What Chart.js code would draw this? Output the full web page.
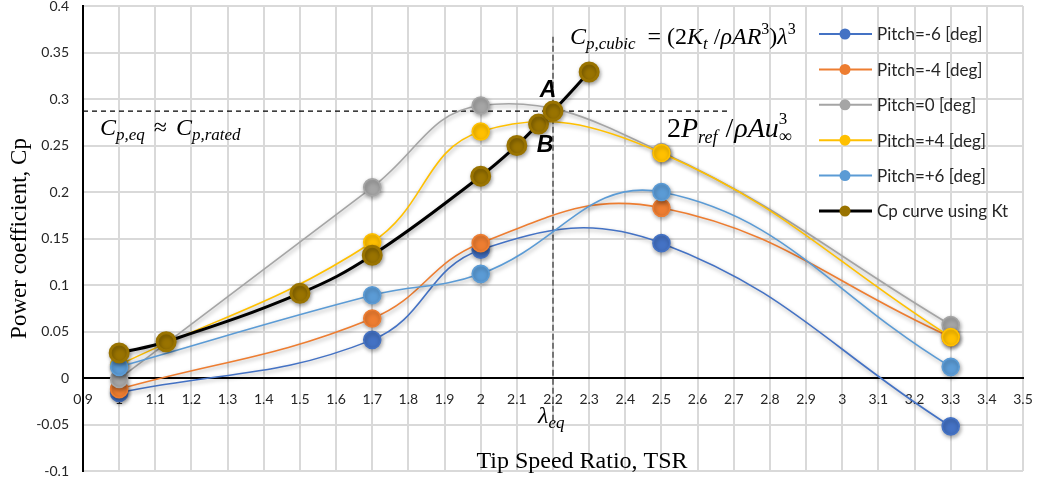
<!DOCTYPE html>
<html>
<head>
<meta charset="utf-8">
<script src="https://cdn.jsdelivr.net/npm/chart.js@4.4.1/dist/chart.umd.min.js"></script>
<style>
  html, body { margin: 0; padding: 0; background: #fff; }
  #wrap { width: 1037px; height: 483px; }
</style>
</head>
<body>
<div id="wrap"><canvas id="cpChart" width="1037" height="483"></canvas></div>
<script>
// tip speed ratio where the pitch sweeps were measured
const tsrPitch = [1.0, 1.7, 2.0, 2.5, 3.3];
const cpPitchM6 = [-0.016, 0.041, 0.138, 0.145, -0.052];
const cpPitchM4 = [-0.012, 0.064, 0.145, 0.183, 0.044];
const cpPitch0 = [-0.001, 0.205, 0.293, 0.243, 0.057];
const cpPitchP4 = [0.014, 0.146, 0.265, 0.242, 0.044];
const cpPitchP6 = [0.012, 0.089, 0.112, 0.200, 0.012];

// cubic Cp curve from Kt
const tsrKt = [1.0, 1.13, 1.5, 1.7, 2.0, 2.1, 2.16, 2.2, 2.3];
const cpKt = [0.027, 0.039, 0.091, 0.132, 0.217, 0.250, 0.273, 0.287, 0.329];

const pitchLabels = ['Pitch=-6 [deg]', 'Pitch=-4 [deg]', 'Pitch=0 [deg]', 'Pitch=+4 [deg]', 'Pitch=+6 [deg]'];
const pitchColors = ['#4472C4', '#ED7D31', '#A5A5A5', '#FFC000', '#5B9BD5'];
const ktLabel = 'Cp curve using Kt';

// axis ranges
const xMin = 0.9, xMax = 3.5, xStep = 0.1;
const yMin = -0.1, yMax = 0.4, yStep = 0.05;

// equilibrium point lines
const cpEq = 0.287;
const lambdaEq = 2.2;
const cpEqLineEnd = 2.69;
const lambdaLineTop = 0.367, lambdaLineBottom = -0.05;

function toPoints(xs, ys) {
  return xs.map((x, i) => ({ x: x, y: ys[i] }));
}

const pitchSeries = [cpPitchM6, cpPitchM4, cpPitch0, cpPitchP4, cpPitchP6];
const datasets = pitchSeries.map((vals, i) => ({
  label: pitchLabels[i],
  data: toPoints(tsrPitch, vals),
  borderColor: pitchColors[i],
  backgroundColor: pitchColors[i],
  pointBackgroundColor: pitchColors[i],
  pointBorderColor: pitchColors[i],
  borderWidth: 1.6,
  pointRadius: 8.5,
  pointHoverRadius: 8.5,
  showLine: true,
  tension: 0.42,
  clip: false,
  order: 10 - i
}));
datasets.push({
  label: ktLabel,
  data: toPoints(tsrKt, cpKt),
  borderColor: '#000000',
  backgroundColor: '#997300',
  pointBackgroundColor: '#997300',
  pointBorderColor: '#997300',
  borderWidth: 3,
  pointRadius: 9,
  pointHoverRadius: 9,
  showLine: true,
  tension: 0.4,
  clip: false,
  order: 1
});

function fmt(v) {
  return String(Number(v.toFixed(2)));
}

// draws a formula made of runs (italic letters, sub/superscripts)
function drawRuns(ctx, x, y, runs) {
  runs.forEach(r => {
    ctx.font = r.f;
    ctx.fillText(r.t, x, y + (r.dy || 0));
    if (!r.stack) x += ctx.measureText(r.t).width + (r.gap || 0);
  });
  return x;
}

const serif = "'Liberation Serif', 'Times New Roman', serif";
const I = s => 'italic ' + s + 'px ' + serif;
const N = s => s + 'px ' + serif;

const shadowPlugin = {
  id: 'shadow',
  beforeDatasetDraw(chart) {
    const ctx = chart.ctx;
    ctx.save();
    ctx.shadowColor = 'rgba(0,0,0,0.35)';
    ctx.shadowBlur = 4;
    ctx.shadowOffsetX = 1;
    ctx.shadowOffsetY = 2;
  },
  afterDatasetDraw(chart) {
    chart.ctx.restore();
  }
};

const guidePlugin = {
  id: 'guides',
  beforeDatasetsDraw(chart) {
    const ctx = chart.ctx;
    const xs = chart.scales.x, ys = chart.scales.y;
    ctx.save();
    ctx.setLineDash([5, 4]);
    ctx.lineWidth = 1.3;
    ctx.strokeStyle = '#000';
    ctx.beginPath();
    ctx.moveTo(xs.getPixelForValue(xMin), ys.getPixelForValue(cpEq));
    ctx.lineTo(xs.getPixelForValue(cpEqLineEnd), ys.getPixelForValue(cpEq));
    ctx.stroke();
    ctx.strokeStyle = '#404040';
    ctx.setLineDash([6, 3]);
    ctx.beginPath();
    ctx.moveTo(xs.getPixelForValue(lambdaEq), ys.getPixelForValue(lambdaLineTop));
    ctx.lineTo(xs.getPixelForValue(lambdaEq), ys.getPixelForValue(lambdaLineBottom));
    ctx.stroke();
    ctx.restore();
  },
  afterDraw(chart) {
    const ctx = chart.ctx;
    ctx.save();
    ctx.fillStyle = '#000';
    ctx.textBaseline = 'alphabetic';
    ctx.textAlign = 'left';

    // Cp,eq ~ Cp,rated
    drawRuns(ctx, 100, 135, [
      { t: 'C', f: I(24) },
      { t: 'p,eq', f: I(17), dy: 5, gap: 3 },
      { t: ' \u2248 ', f: N(24), gap: 3 },
      { t: 'C', f: I(24) },
      { t: 'p,rated', f: I(17), dy: 5 }
    ]);

    // Cp,cubic = (2Kt / rho A R^3) lambda^3
    drawRuns(ctx, 570, 44, [
      { t: 'C', f: I(24) },
      { t: 'p,cubic', f: I(17), dy: 5 },
      { t: '  = (2', f: N(24) },
      { t: 'K', f: I(24) },
      { t: 't', f: I(17), dy: 5 },
      { t: ' /', f: N(24) },
      { t: '\u03C1AR', f: I(24) },
      { t: '3', f: N(16), dy: -10 },
      { t: ')', f: N(24) },
      { t: '\u03BB', f: I(24) },
      { t: '3', f: N(16), dy: -10 }
    ]);

    // 2 Pref / rho A u_inf^3
    drawRuns(ctx, 667, 137, [
      { t: '2', f: N(28) },
      { t: 'P', f: I(28) },
      { t: 'ref', f: I(18), dy: 6, gap: 1 },
      { t: ' /', f: N(28), gap: 1 },
      { t: '\u03C1Au', f: I(28) },
      { t: '3', f: N(17), dy: -13, stack: true },
      { t: '\u221E', f: N(18), dy: 5 }
    ]);

    // lambda_eq under the axis
    drawRuns(ctx, 538, 423, [
      { t: '\u03BB', f: I(24) },
      { t: 'eq', f: I(17), dy: 5 }
    ]);

    // points A and B
    ctx.font = "italic bold 23px 'Liberation Sans', Arial, sans-serif";
    ctx.textAlign = 'center';
    ctx.fillText('A', 548, 97);
    ctx.fillText('B', 545, 152);

    // x axis title, sits inside the plot like the original
    ctx.font = N(24);
    ctx.fillText('Tip Speed Ratio, TSR', 582, 468);

    // legend
    ctx.textAlign = 'left';
    ctx.textBaseline = 'middle';
    const items = chart.data.datasets;
    items.forEach((ds, i) => {
      const y = 34 + i * 35.4;
      ctx.strokeStyle = ds.borderColor;
      ctx.lineWidth = i === 5 ? 3 : 2;
      ctx.beginPath();
      ctx.moveTo(819, y);
      ctx.lineTo(872, y);
      ctx.stroke();
      ctx.fillStyle = ds.pointBackgroundColor;
      ctx.beginPath();
      ctx.arc(845, y, 5.5, 0, Math.PI * 2);
      ctx.fill();
      ctx.fillStyle = '#262626';
      ctx.font = "17px Lato, 'Noto Sans', sans-serif";
      ctx.fillText(ds.label, 877, y + 1);
    });
    ctx.restore();
  }
};

const ctx = document.getElementById('cpChart').getContext('2d');
const cpChart = new Chart(ctx, {
  type: 'scatter',
  data: { datasets: datasets },
  options: {
    responsive: false,
    animation: false,
    layout: { autoPadding: false, padding: { left: 0, right: 14, top: 6, bottom: 12 } },
    plugins: {
      legend: { display: false },
      tooltip: { enabled: false }
    },
    scales: {
      x: {
        type: 'linear',
        min: xMin,
        max: xMax,
        position: { y: 0 },
        grid: { color: '#d9d9d9', lineWidth: 2, drawTicks: true, tickLength: 14, tickColor: 'rgba(0,0,0,0)' },
        border: { color: '#000', width: 2 },
        ticks: {
          stepSize: xStep,
          autoSkip: false,
          maxRotation: 0,
          padding: 0,
          color: '#262626',
          font: { family: "Lato, 'Noto Sans', sans-serif", size: 14, lineHeight: 1 },
          callback: v => fmt(v)
        }
      },
      y: {
        type: 'linear',
        min: yMin,
        max: yMax,
        grid: { color: '#d9d9d9', lineWidth: 2, drawTicks: true, tickLength: 14, tickColor: 'rgba(0,0,0,0)' },
        border: { color: '#000', width: 2 },
        ticks: {
          stepSize: yStep,
          padding: 0,
          color: '#262626',
          font: { family: "Lato, 'Noto Sans', sans-serif", size: 14, lineHeight: 0.85 },
          callback: v => fmt(v)
        },
        title: {
          display: true,
          text: 'Power coefficient, Cp',
          color: '#000',
          padding: { top: 6, bottom: 0 },
          font: { family: serif, size: 23 }
        },
        afterFit(scale) { scale.width = 83; }
      }
    }
  },
  plugins: [shadowPlugin, guidePlugin]
});
</script>
</body>
</html>
